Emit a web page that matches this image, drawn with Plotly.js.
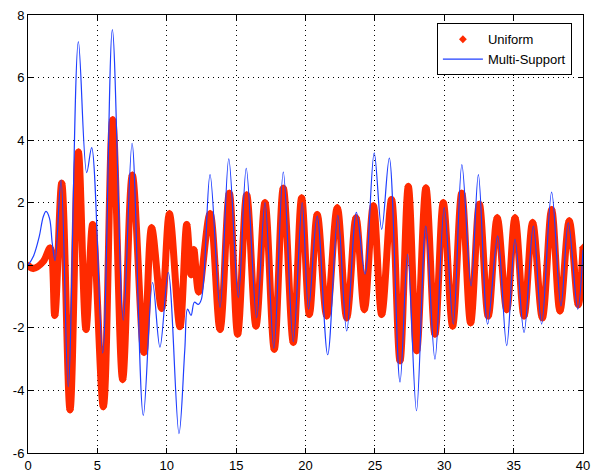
<!DOCTYPE html>
<html>
<head>
<meta charset="utf-8">
<script src="https://cdn.plot.ly/plotly-3.0.1.min.js"></script>
<style>html,body{margin:0;padding:0;background:#fff;}#chart{width:592px;height:473px;}</style>
</head>
<body>
<div id="chart"></div>
<script>
// Uniform series: extrema (time, response)
const uniformX = [0, 0.38, 1.1, 1.6, 1.93, 2.43, 3.03, 3.63, 4.18, 4.66, 5.43, 6.1, 6.82, 7.52, 8.36, 8.91, 9.63, 10.19, 10.95, 11.44, 11.75, 11.95, 12.3, 13.12, 13.84, 14.51, 15.11, 15.76, 16.43, 17.08, 17.75, 18.4, 19.12, 19.72, 20.28, 20.85, 21.53, 22.29, 22.97, 23.64, 24.24, 24.89, 25.49, 26.2, 26.81, 27.41, 28.01, 28.68, 29.33, 29.93, 30.6, 31.26, 31.9, 32.53, 33.17, 33.82, 34.5, 35.1, 35.75, 36.37, 37.07, 37.74, 38.34, 39.01, 39.66, 40];
const uniformY = [0, -0.1, 0.12, 0.55, -1.6, 2.62, -4.62, 3.62, -2.05, 1.3, -4.52, 4.65, -3.65, 2.88, -2.78, 1.2, -1.38, 1.65, -1.96, 1.3, -0.3, 0.5, -0.85, 1.65, -2.05, 2.3, -2.2, 2.25, -1.94, 2.0, -2.68, 2.46, -2.46, 2.15, -1.57, 1.62, -1.62, 1.84, -1.68, 1.52, -1.42, 1.9, -1.57, 2.1, -3.05, 2.52, -2.73, 2.47, -2.2, 2.0, -1.94, 2.3, -1.84, 1.95, -1.62, 1.52, -1.42, 1.52, -1.62, 1.37, -1.68, 1.78, -1.46, 1.42, -1.26, 0.57];

// Multi-Support series
const multiX = [0, 0.4, 0.8, 1.1, 1.3, 1.55, 1.75, 1.95, 2.38, 2.9, 3.63, 4.23, 4.59, 5.38, 6.08, 6.87, 7.5, 8.31, 8.98, 9.51, 10.11, 10.88, 11.3, 11.5, 11.75, 11.99, 12.27, 12.5, 13.12, 13.84, 14.47, 15.16, 15.73, 16.48, 17.08, 17.72, 18.4, 19.12, 19.76, 20.22, 20.84, 21.6, 22.33, 22.97, 23.67, 24.29, 24.95, 25.49, 26.04, 26.81, 27.36, 28.0, 28.67, 29.33, 30.0, 30.65, 31.27, 31.93, 32.46, 33.13, 33.85, 34.5, 35.1, 35.75, 36.42, 37.02, 37.74, 38.41, 38.94, 39.62, 40];
const multiY = [0, 0.3, 0.9, 1.55, 1.72, 1.5, 0.7, 0.15, 2.72, -3.88, 7.15, 2.96, 3.76, -2.8, 7.53, -1.75, 3.9, -4.8, -0.55, -2.62, -0.23, -5.38, -2.7, -1.4, -1.6, -1.18, -1.25, -1.08, 2.9, -1.35, 3.4, -1.03, 3.1, -1.67, 2.0, -2.65, 2.98, -2.44, 2.0, -1.4, 1.57, -2.86, 1.6, -2.1, 1.69, -0.28, 3.59, 1.15, 3.43, -3.73, 0.35, -4.65, 1.25, -3.0, 1.84, -1.88, 3.22, -0.66, 2.9, -1.88, 0.93, -2.57, 0.83, -2.15, 1.25, -1.88, 2.34, -1.3, 1.36, -1.4, 0.5];

const xTicks = [0, 5, 10, 15, 20, 25, 30, 35, 40];
const yTicks = [-6, -4, -2, 0, 2, 4, 6, 8];

const red = '#ff2a00';
const blue = '#1f3fff';

const traces = [
  {x: uniformX, y: uniformY, type: 'scatter', mode: 'lines', name: 'Uniform',
   line: {color: red, width: 7, shape: 'spline', smoothing: 1}, showlegend: false, legendgroup: 'u', hoverinfo: 'skip'},
  {x: uniformX, y: uniformY, type: 'scatter', mode: 'markers', name: 'Uniform',
   marker: {color: red, size: 6, symbol: 'diamond'}, legendgroup: 'u'},
  {x: multiX, y: multiY, type: 'scatter', mode: 'lines', name: 'Multi-Support',
   line: {color: blue, width: 1.2, shape: 'spline', smoothing: 1}}
];

const axisCommon = {
  showline: true, linecolor: '#000', linewidth: 1, mirror: 'allticks',
  ticks: 'inside', ticklen: 5, tickcolor: '#000', tickwidth: 1,
  showgrid: true, gridcolor: '#000', gridwidth: 1, griddash: '1px,4px',
  zeroline: false, tickfont: {family: 'Liberation Sans, Arial, sans-serif', size: 13, color: '#000'}
};

const layout = {
  width: 592, height: 473,
  margin: {l: 28, r: 9, t: 15, b: 20},
  paper_bgcolor: '#fff', plot_bgcolor: '#fff',
  xaxis: Object.assign({}, axisCommon, {range: [0, 40], tickvals: xTicks, ticktext: xTicks.map(String), ticklabelstandoff: 0}),
  yaxis: Object.assign({}, axisCommon, {range: [-6, 8], tickvals: yTicks, ticktext: yTicks.map(String)}),
  legend: {x: 0.98, y: 0.981, xanchor: 'right', yanchor: 'top', bgcolor: '#fff', bordercolor: '#000', borderwidth: 1,
    font: {family: 'Liberation Sans, Arial, sans-serif', size: 13, color: '#000'}, tracegroupgap: 0, itemwidth: 40},
  showlegend: true
};

Plotly.newPlot('chart', traces, layout, {displayModeBar: false, staticPlot: true});
</script>
</body>
</html>
